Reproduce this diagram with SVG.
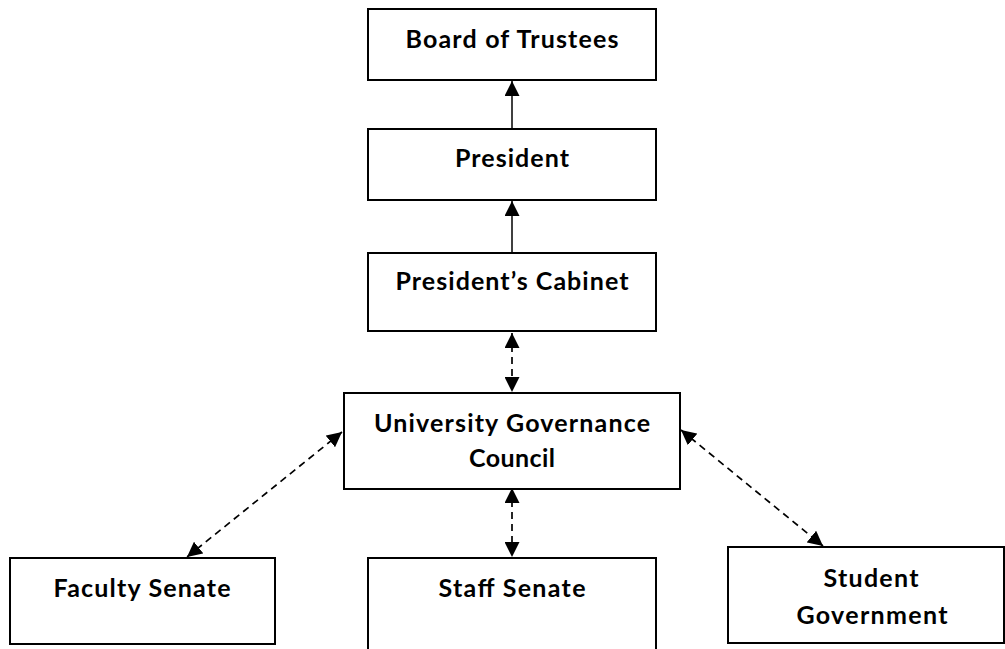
<svg xmlns="http://www.w3.org/2000/svg" width="1005" height="649" viewBox="0 0 1005 649">
<style>
.box{fill:#fff;stroke:#000;stroke-width:2}
.lbl{font-family:Lato,"Liberation Sans",sans-serif;font-weight:bold;font-size:25px;fill:#000;text-anchor:middle}
.solid{stroke:#000;stroke-width:1.5;fill:none}
.dash{stroke:#000;stroke-width:1.7;fill:none;stroke-dasharray:7 5}
</style>
<defs>
<marker id="ah" viewBox="0 0 15 15" refX="15" refY="7.5" markerWidth="15" markerHeight="15" markerUnits="userSpaceOnUse" orient="auto-start-reverse">
<path d="M0,0 L15,7.5 L0,15 z" fill="#000"/>
</marker>
</defs>
<rect width="1005" height="649" fill="#fff"/>
<g id="connectors">
<line class="solid" x1="512" y1="128" x2="512" y2="81" marker-end="url(#ah)"/>
<line class="solid" x1="512" y1="252" x2="512" y2="201" marker-end="url(#ah)"/>
<line class="dash" x1="512" y1="333" x2="512" y2="392" marker-start="url(#ah)" marker-end="url(#ah)"/>
<line class="dash" x1="342" y1="432" x2="187" y2="557" marker-start="url(#ah)" marker-end="url(#ah)"/>
<line class="dash" x1="512" y1="488" x2="512" y2="557" marker-start="url(#ah)" marker-end="url(#ah)"/>
<line class="dash" x1="681" y1="430" x2="823" y2="546" marker-start="url(#ah)" marker-end="url(#ah)"/>
</g>
<g id="board">
<rect class="box" x="368" y="9" width="288" height="71"/>
<text class="lbl" x="512" y="48" textLength="213">Board of Trustees</text>
</g>
<g id="president">
<rect class="box" x="368" y="129" width="288" height="71"/>
<text class="lbl" x="512" y="167" textLength="114">President</text>
</g>
<g id="cabinet">
<rect class="box" x="368" y="253" width="288" height="78"/>
<text class="lbl" x="512" y="290" textLength="233">President’s Cabinet</text>
</g>
<g id="ugc">
<rect class="box" x="344" y="393" width="336" height="96"/>
<text class="lbl" x="512" y="432" textLength="276">University Governance</text>
<text class="lbl" x="512" y="467" textLength="86">Council</text>
</g>
<g id="faculty">
<rect class="box" x="10" y="558" width="265" height="86"/>
<text class="lbl" x="142" y="597" textLength="177">Faculty Senate</text>
</g>
<g id="staff">
<rect class="box" x="368" y="558" width="288" height="100"/>
<text class="lbl" x="512" y="597" textLength="147">Staff Senate</text>
</g>
<g id="student">
<rect class="box" x="728" y="547" width="276" height="96"/>
<text class="lbl" x="871" y="587" textLength="95">Student</text>
<text class="lbl" x="872" y="624" textLength="151">Government</text>
</g>
</svg>
